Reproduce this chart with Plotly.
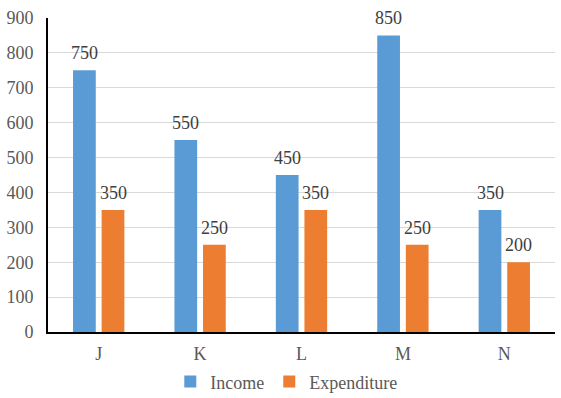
import plotly.graph_objects as go

categories = ["J", "K", "L", "M", "N"]
income = [750, 550, 450, 850, 350]
expenditure = [350, 250, 350, 250, 200]
y_ticks = [0, 100, 200, 300, 400, 500, 600, 700, 800, 900]

font_family = "Liberation Serif"
text_color = "#404040"
tick_color = "#595959"

BARGAP = 0.436
GROUPGAP = 0.205
slot = (1 - BARGAP) / 2

fig = go.Figure()
fig.add_trace(go.Bar(x=categories, y=income, name="Income",
                     marker=dict(color="#5B9BD5", line=dict(width=0))))
fig.add_trace(go.Bar(x=categories, y=expenditure, name="Expenditure",
                     marker=dict(color="#ED7D31", line=dict(width=0))))

for series, sign in ((income, -1), (expenditure, 1)):
    for i, v in enumerate(series):
        fig.add_annotation(x=i + sign * slot / 2, y=v, xref="x", yref="y",
                           text=str(v), showarrow=False, yanchor="bottom",
                           yshift=5,
                           font=dict(family=font_family, size=18, color=text_color))

fig.update_layout(
    width=561, height=398,
    margin=dict(l=48, r=6, t=18, b=66, autoexpand=False),
    paper_bgcolor="white", plot_bgcolor="white",
    barmode="group", bargap=BARGAP, bargroupgap=GROUPGAP,
    font=dict(family=font_family, size=18, color=tick_color),
    showlegend=True,
    legend=dict(orientation="h", x=0.47, xanchor="center", y=-0.1, yanchor="top",
                font=dict(family=font_family, size=18, color=tick_color),
                itemwidth=30, tracegroupgap=0),
    xaxis=dict(showline=True, linecolor="black", linewidth=2, ticks="",
               tickfont=dict(family=font_family, size=18, color=tick_color),
               showgrid=False, automargin=False, ticklabelstandoff=4),
    yaxis=dict(range=[0, 900], tickvals=y_ticks, showline=True, linecolor="black",
               linewidth=2, gridcolor="#D9D9D9", gridwidth=1, zeroline=False,
               ticks="", ticklabelstandoff=9, automargin=False,
               tickfont=dict(family=font_family, size=18, color=tick_color)),
)

fig.write_html("out.html", post_script="document.body.style.margin='0';",
               config={"displayModeBar": False})
